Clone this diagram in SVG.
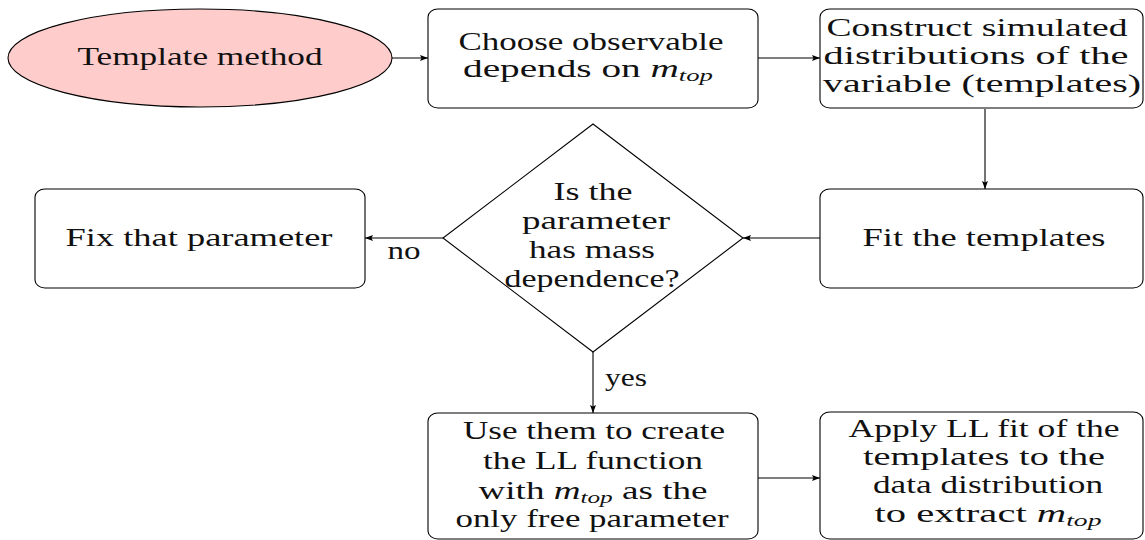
<svg xmlns="http://www.w3.org/2000/svg" width="1145" height="540" viewBox="0 0 1145 540">
<style>
.n{fill:#fff;stroke:#000;stroke-width:1.1}
.e{fill:#ffcccc;stroke:#000;stroke-width:1.1}
.t{font-family:"Liberation Serif","Times New Roman",serif;font-size:25px;fill:#111;text-anchor:middle}
.i{font-style:italic}
.s{font-style:italic;font-size:17px}
.c{fill:none;stroke:#000;stroke-width:1.1;marker-end:url(#ah)}
</style>
<defs>
<marker id="ah" viewBox="0 0 8 6" refX="8" refY="3" markerWidth="8" markerHeight="6" markerUnits="userSpaceOnUse" orient="auto">
<path d="M0,0 L8,3 L0,6 L1.5,3 Z" fill="#000"/>
</marker>
</defs>
<rect width="1145" height="540" fill="#fff"/>
<g id="connectors">
<line class="c" x1="392" y1="58" x2="428" y2="58"/>
<line class="c" x1="758" y1="58" x2="820" y2="58"/>
<line class="c" x1="985" y1="109" x2="985" y2="189"/>
<line class="c" x1="820" y1="238" x2="743" y2="238"/>
<line class="c" x1="443" y1="238" x2="365" y2="238"/>
<line class="c" x1="593" y1="352" x2="593" y2="413"/>
<line class="c" x1="758" y1="478" x2="820" y2="478"/>
<text class="t" x="404" y="259" textLength="33" lengthAdjust="spacingAndGlyphs">no</text>
<text class="t" x="626" y="386" textLength="42" lengthAdjust="spacingAndGlyphs">yes</text>
</g>
<g id="start">
<ellipse class="e" cx="200" cy="58" rx="192" ry="49"/>
<text class="t" x="200" y="65" textLength="245" lengthAdjust="spacingAndGlyphs">Template method</text>
</g>
<g id="choose">
<rect class="n" x="428" y="9" width="330" height="99" rx="10" ry="8"/>
<text class="t" x="591" y="50" textLength="265" lengthAdjust="spacingAndGlyphs">Choose observable</text>
<text class="t" x="588" y="77" textLength="250" lengthAdjust="spacingAndGlyphs">depends on <tspan class="i">m</tspan><tspan class="s" dy="4">top</tspan></text>
</g>
<g id="construct">
<rect class="n" x="820" y="9" width="323" height="99" rx="10" ry="8"/>
<text class="t" x="977" y="36" textLength="301" lengthAdjust="spacingAndGlyphs">Construct simulated</text>
<text class="t" x="976" y="64" textLength="305" lengthAdjust="spacingAndGlyphs">distributions of the</text>
<text class="t" x="982" y="92" textLength="318" lengthAdjust="spacingAndGlyphs">variable (templates)</text>
</g>
<g id="fit">
<rect class="n" x="820" y="189" width="323" height="99" rx="10" ry="8"/>
<text class="t" x="984" y="246" textLength="243" lengthAdjust="spacingAndGlyphs">Fit the templates</text>
</g>
<g id="decision">
<polygon class="n" points="593,124 743,238 593,352 443,238"/>
<text class="t" x="593" y="200" textLength="79" lengthAdjust="spacingAndGlyphs">Is the</text>
<text class="t" x="596" y="229" textLength="148" lengthAdjust="spacingAndGlyphs">parameter</text>
<text class="t" x="592" y="258" textLength="126" lengthAdjust="spacingAndGlyphs">has mass</text>
<text class="t" x="592" y="287" textLength="175" lengthAdjust="spacingAndGlyphs">dependence?</text>
</g>
<g id="fix">
<rect class="n" x="35" y="189" width="330" height="99" rx="10" ry="8"/>
<text class="t" x="199" y="246" textLength="267" lengthAdjust="spacingAndGlyphs">Fix that parameter</text>
</g>
<g id="use">
<rect class="n" x="428" y="413" width="330" height="126" rx="10" ry="8"/>
<text class="t" x="594" y="439" textLength="262" lengthAdjust="spacingAndGlyphs">Use them to create</text>
<text class="t" x="593" y="469" textLength="220" lengthAdjust="spacingAndGlyphs">the LL function</text>
<text class="t" x="593" y="499" textLength="229" lengthAdjust="spacingAndGlyphs">with <tspan class="i">m</tspan><tspan class="s" dy="4">top</tspan><tspan dy="-4"> as the</tspan></text>
<text class="t" x="592" y="527" textLength="273" lengthAdjust="spacingAndGlyphs">only free parameter</text>
</g>
<g id="apply">
<rect class="n" x="820" y="412" width="323" height="127" rx="10" ry="8"/>
<text class="t" x="984" y="437" textLength="271" lengthAdjust="spacingAndGlyphs">Apply LL fit of the</text>
<text class="t" x="984" y="465" textLength="242" lengthAdjust="spacingAndGlyphs">templates to the</text>
<text class="t" x="988" y="493" textLength="230" lengthAdjust="spacingAndGlyphs">data distribution</text>
<text class="t" x="988" y="522" textLength="227" lengthAdjust="spacingAndGlyphs">to extract <tspan class="i">m</tspan><tspan class="s" dy="4">top</tspan></text>
</g>
</svg>
